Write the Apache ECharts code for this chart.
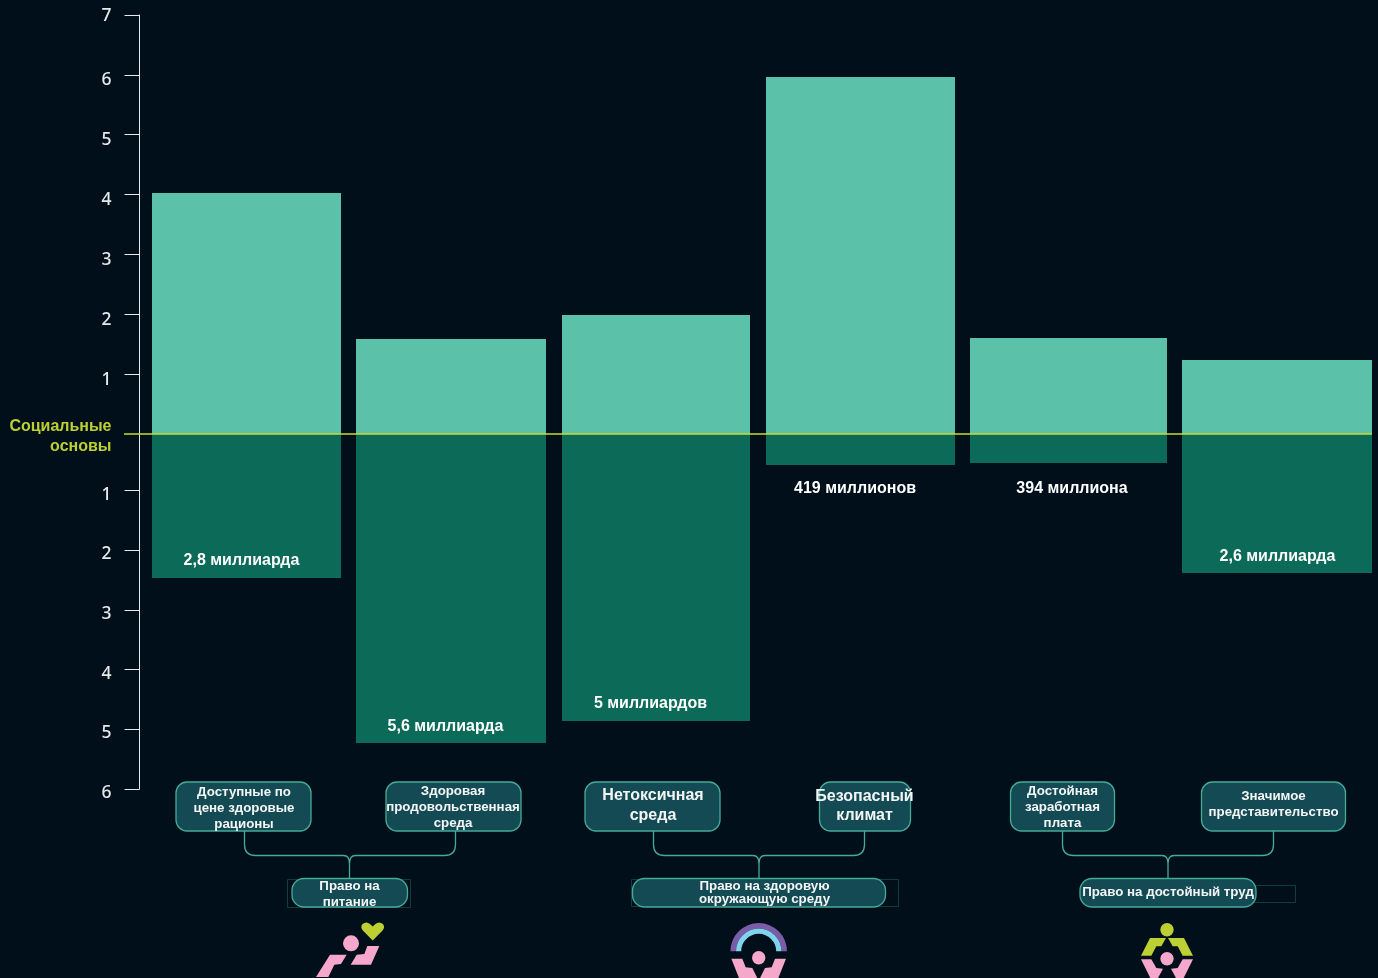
<!DOCTYPE html>
<html lang="ru">
<head>
<meta charset="utf-8">
<style>html,body{margin:0;padding:0;background:#000f1a;overflow:hidden}#c{width:1378px;height:978px}</style>
<script src="https://cdn.jsdelivr.net/npm/echarts@6/dist/echarts.min.js"></script>
</head>
<body>
<div id="c"></div>
<script>
// ---- data ----
const categories = ['Доступные по\nцене здоровые\nрационы','Здоровая\nпродовольственная\nсреда','Нетоксичная\nсреда','Безопасный\nклимат','Достойная\nзаработная\nплата','Значимое\nпредставительство'];
const groupNames = ['Право на\nпитание','Право на здоровую\nокружающую среду','Право на достойный труд'];
const upperValues = [4.03,1.59,1.98,5.96,1.61,1.24];
const lowerValues = [2.46,5.23,4.86,0.57,0.54,2.38];
const lowerLabels = ['2,8 миллиарда','5,6 миллиарда','5 миллиардов','419 миллионов','394 миллиона','2,6 миллиарда'];
const upperTicks = [0,1,2,3,4,5,6,7];
const lowerTicks = [1,2,3,4,5,6];
const foundationLabel = 'Социальные\nосновы';

// ---- layout and style ----
const C = {bg:'#000f1a',light:'#5bc1a8',dark:'#0c6a58',axis:'#e6e9ea',line:'#c8dc2c',lime:'#bcd033',pink:'#f5a8cb',purple:'#7b5ca8',sky:'#7fd3ec',box:'#134a54',stroke:'#45ab97',faint:'#0e3d45',text:'#f4f6f6'};
const barOffset = [18.5,15,12,8.5,8.5,9], barWidth = [189,190,188,189,197,190];
const labelDx = [-5,-5.5,-5.5,-5.5,3.5,0.5], labelDy = [-17,-16,-17,24,25.5,-16];
const F = '"Liberation Sans",Arial,sans-serif';

function barRenderer(values, fill, withLabels){
  return function(params, api){
    const i = api.value(0), v = api.value(1);
    const x0 = api.coord([i,0]), p = api.coord([i,v]);
    const w = barWidth[i], left = x0[0]+barOffset[i]-w/2;
    const y0 = Math.round(x0[1]), y1 = Math.round(p[1]);
    const children = [{type:'rect',shape:{x:left,y:Math.min(y0,y1),width:w,height:Math.abs(y1-y0)},style:{fill:fill}}];
    if(withLabels){
      children.push({type:'text',z2:5,style:{text:lowerLabels[i],x:left+w/2+labelDx[i],y:p[1]+labelDy[i],align:'center',verticalAlign:'middle',fill:'#fff',font:'bold 16px '+F}});
    }
    return {type:'group',children:children};
  };
}
function tickLabel(v){ return '{'+(v===7?'top':'n')+'|'+v+'}'; }
const tickFont = {fontFamily:'"Noto Sans"',fontSize:17.5,fontWeight:500,color:C.axis};
const tickRich = {
  top:Object.assign({padding:[2,0,0,0]},tickFont),
  n:Object.assign({padding:[11,0,0,0]},tickFont)
};
const lowRich = {n:Object.assign({padding:[8,0,0,0]},tickFont)};

// ---- bottom graphics ----
const g = [];
let pathCount = 0;
function pathEl(d, z, style){
  const name = 'decor'+(pathCount++);
  echarts.graphic.registerShape(name, echarts.graphic.extendPath(d, {}));
  g.push({type:name, z:z, style:style});
}
function box(x0,x1,y0,y1,r,text,cx,cy,size,lh){
  g.push({type:'rect',z:10,shape:{x:x0,y:y0,width:x1-x0,height:y1-y0,r:r},style:{fill:C.box,stroke:C.stroke,lineWidth:1.3}});
  g.push({type:'text',z:11,style:{text:text,x:cx,y:cy,align:'center',verticalAlign:'middle',fill:C.text,font:'bold '+size+'px '+F,lineHeight:lh}});
}
function faint(x0,x1,y0,y1){
  g.push({type:'rect',z:9,shape:{x:x0,y:y0,width:x1-x0,height:y1-y0},style:{fill:'none',stroke:C.faint,lineWidth:1}});
}
function connector(xa,xb,xm){
  const top=831,mid=855.5,bot=878,r=11,s=6;
  const d=`M${xa} ${top}V${mid-r}Q${xa} ${mid} ${xa+r} ${mid}H${xm-s}Q${xm} ${mid} ${xm} ${mid+s+2}V${bot}M${xb} ${top}V${mid-r}Q${xb} ${mid} ${xb-r} ${mid}H${xm+s}Q${xm} ${mid} ${xm} ${mid+s+2}`;
  pathEl(d,8,{fill:'none',stroke:C.stroke,lineWidth:1.3});
}
connector(244.5,455.5,349.5); connector(653.5,864.5,759); connector(1062.5,1273.5,1168);
faint(287.5,410.5,879.5,907.5); faint(631.5,898.5,879.5,906.5); faint(1250,1295.5,885.5,902.5);
const Y0=782,Y1=831,R=11,S=13.3;
box(176,311,Y0,Y1,R,categories[0],244,808,S,16);
box(386,521,Y0,Y1,R,categories[1],453,807,S,16);
box(585,720,Y0,Y1,R,categories[2],653,806,16,20);
box(819.5,910.5,Y0,Y1,R,categories[3],864.5,806.5,16,19);
box(1010.5,1114.5,Y0,Y1,R,categories[4],1062.5,807,S,16);
box(1201.5,1345.5,Y0,Y1,R,categories[5],1273.5,804,S,16);
box(292,407.5,878.5,907,12,groupNames[0],349.5,894,S,16);
box(632.5,885.5,878.5,907,12,groupNames[1],764.5,892.5,S,13);
box(1080,1256,878.5,907,12,groupNames[2],1168,892,S,16);

g.push({type:'text',z:11,style:{text:foundationLabel,x:111.5,y:436.5,align:'right',verticalAlign:'middle',fill:C.lime,font:'bold 16px '+F,lineHeight:20}});

function poly(ox,oy,pts,fill){
  g.push({type:'polygon',z:12,shape:{points:pts.map(p=>[ox+p[0]/3,oy+p[1]/3])},style:{fill:fill}});
}
function circ(cx,cy,r,fill){ g.push({type:'circle',z:13,shape:{cx:cx,cy:cy,r:r},style:{fill:fill}}); }
// icon 1
pathEl('M372.7 940.6L362.8 930.5Q360 927 362.5 924Q366.5 921 370 924L372.7 926.6L375.4 924Q379 921 382.9 924Q385.4 927 382.6 930.5Z',12,{fill:C.lime});
circ(351,943.3,8,C.pink);
poly(305,918,[[75,110],[125,110],[108,138],[88,140],[70,177],[33,177]],C.pink);
poly(305,918,[[137,140],[155,110],[178,108],[187,84],[223,84],[198,140]],C.pink);
// icon 2
pathEl('M730.4 951.3A28.3 28.3 0 0 1 787 951.3H781.4A22.7 22.7 0 0 0 736 951.3Z',12,{fill:C.purple});
pathEl('M736 951.3A22.7 22.7 0 0 1 781.4 951.3H776.2A17.5 17.5 0 0 0 741.2 951.3Z',12,{fill:C.sky});
circ(758.7,957.7,6.7,C.pink);
poly(715,918,[[49,122],[82,122],[92,148],[112,150],[127,180],[72,180]],C.pink);
poly(715,918,[[135,180],[150,150],[170,148],[180,122],[213,122],[190,180]],C.pink);
// icon 3
circ(1167,929.7,6.7,C.lime); circ(1167,958.7,6.7,C.pink);
poly(1122,918,[[57,113],[84,60],[132,60],[118,85],[103,85],[88,113]],C.lime);
poly(1122,918,[[213,113],[186,60],[138,60],[152,85],[167,85],[182,113]],C.lime);
poly(1122,918,[[57,124],[88,124],[103,150],[123,152],[108,180],[85,180]],C.pink);
poly(1122,918,[[213,124],[182,124],[167,150],[147,152],[162,180],[185,180]],C.pink);

// ---- chart ----
const chart = echarts.init(document.getElementById('c'),null,{renderer:'canvas'});
chart.setOption({
  backgroundColor:C.bg,
  animation:false,
  grid:[
    {left:124,width:1248,top:15,height:419},
    {left:124,width:1248,top:431,height:358}
  ],
  xAxis:[
    {type:'category',gridIndex:0,data:categories,show:false},
    {type:'category',gridIndex:1,data:categories,show:false}
  ],
  yAxis:[
    {type:'value',gridIndex:0,min:0,max:7,interval:1,position:'left',offset:-15.5,splitLine:{show:false},
      axisLine:{show:true,onZero:false,lineStyle:{color:C.axis,width:1}},
      axisTick:{show:true,length:15,lineStyle:{color:C.axis,width:1},customValues:upperTicks.slice(1)},
      axisLabel:{margin:28,formatter:tickLabel,rich:tickRich,customValues:upperTicks.slice(1),showMinLabel:true,showMaxLabel:true}},
    {type:'value',gridIndex:1,min:0,max:6,interval:1,inverse:true,position:'left',offset:-15.5,splitLine:{show:false},
      axisLine:{show:true,onZero:false,lineStyle:{color:C.axis,width:1}},
      axisTick:{show:true,length:15,lineStyle:{color:C.axis,width:1},customValues:lowerTicks},
      axisLabel:{margin:28,formatter:v=>'{n|'+v+'}',rich:lowRich,customValues:lowerTicks,showMinLabel:true,showMaxLabel:true}}
  ],
  series:[
    {type:'custom',name:'lower',xAxisIndex:1,yAxisIndex:1,z:2,clip:false,silent:true,encode:{x:0,y:1},
      data:lowerValues.map((v,i)=>[i,v]),renderItem:barRenderer(lowerValues,C.dark,true)},
    {type:'custom',name:'upper',xAxisIndex:0,yAxisIndex:0,z:3,clip:false,silent:true,encode:{x:0,y:1},
      data:upperValues.map((v,i)=>[i,v]),renderItem:barRenderer(upperValues,C.light,false),
      markLine:{silent:true,symbol:'none',animation:false,z:6,label:{show:false},lineStyle:{color:C.line,width:1.5,type:'solid'},data:[{yAxis:0}]}}
  ],
  graphic:g
});
</script>
</body>
</html>
